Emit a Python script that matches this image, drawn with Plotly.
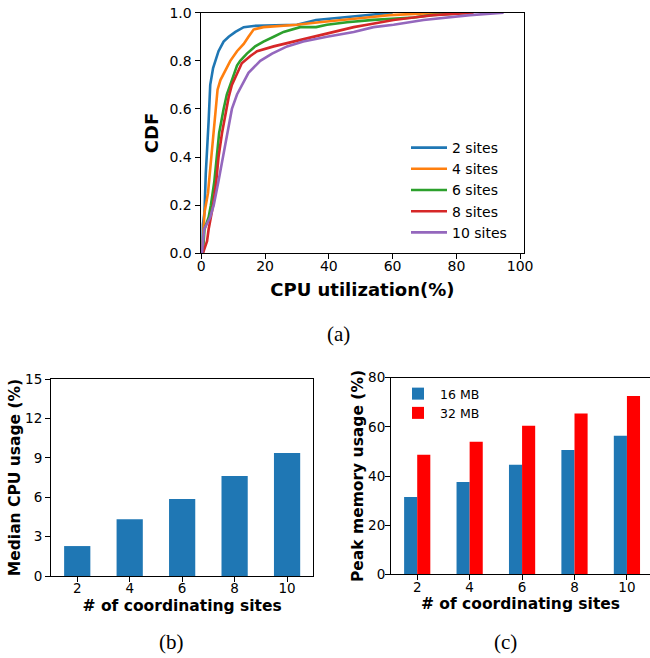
import plotly.graph_objects as go

# ---------------- data ----------------
# (a) CDF of CPU utilization
cpu_2 = [0.3, 0.5, 1.0, 1.4, 2.3, 2.8, 3.7, 4.4, 5.4, 7.0, 8.6, 10.7, 13.3, 16.4, 30, 36, 43.6, 52, 60]
cdf_2 = [0.0, 0.12, 0.17, 0.33, 0.55, 0.70, 0.77, 0.80, 0.84, 0.88, 0.90, 0.92, 0.94, 0.945, 0.95, 0.97, 0.98, 0.99, 1.0]

cpu_4 = [0.3, 0.5, 1.0, 2.1, 3.0, 3.9, 4.5, 5.1, 6.0, 7.5, 9.1, 11.2, 13.3, 14.8, 16.4, 19.5, 30, 37, 43.6, 52, 59, 70, 75]
cdf_4 = [0.0, 0.05, 0.17, 0.25, 0.38, 0.50, 0.60, 0.68, 0.72, 0.76, 0.80, 0.84, 0.87, 0.90, 0.93, 0.94, 0.95, 0.96, 0.97, 0.98, 0.99, 0.995, 1.0]

cpu_6 = [0.5, 1.0, 2.3, 3.0, 4.1, 4.9, 5.6, 7.0, 8.0, 9.6, 11.2, 12.2, 14.3, 16.9, 19.5, 22.7, 25.8, 31, 36, 39.4, 45.7, 54, 60, 66.6, 71.8, 84.3]
cdf_6 = [0.0, 0.10, 0.15, 0.20, 0.30, 0.40, 0.50, 0.60, 0.66, 0.72, 0.78, 0.80, 0.83, 0.86, 0.88, 0.90, 0.92, 0.94, 0.94, 0.95, 0.96, 0.97, 0.975, 0.98, 0.99, 1.0]

cpu_8 = [0.5, 1.8, 2.3, 3.0, 3.7, 4.7, 5.4, 6.5, 7.5, 8.6, 9.6, 11.2, 12.7, 15.4, 17.5, 22.7, 29, 35.2, 41.5, 47.8, 52, 56.1, 60.3, 66.6, 72.8, 85.4]
cdf_8 = [0.0, 0.05, 0.10, 0.15, 0.20, 0.30, 0.40, 0.50, 0.58, 0.65, 0.70, 0.75, 0.79, 0.82, 0.84, 0.86, 0.88, 0.90, 0.92, 0.94, 0.95, 0.96, 0.97, 0.98, 0.99, 1.0]

cpu_10 = [0.2, 0.9, 2.8, 3.9, 5.4, 6.8, 8.0, 9.6, 11.2, 12.7, 14.8, 18.5, 22.2, 26.9, 32, 39.4, 47.8, 54, 60.3, 69.7, 77, 84.3, 94.8]
cdf_10 = [0.0, 0.10, 0.15, 0.20, 0.30, 0.40, 0.50, 0.60, 0.66, 0.70, 0.75, 0.80, 0.83, 0.86, 0.88, 0.90, 0.92, 0.94, 0.95, 0.97, 0.98, 0.99, 1.0]

series_names = ["2 sites", "4 sites", "6 sites", "8 sites", "10 sites"]
series_x = [cpu_2, cpu_4, cpu_6, cpu_8, cpu_10]
series_y = [cdf_2, cdf_4, cdf_6, cdf_8, cdf_10]
series_colors = ["#1f77b4", "#ff7f0e", "#2ca02c", "#d62728", "#9467bd"]

# (b) median CPU usage
sites = ["2", "4", "6", "8", "10"]
median_cpu = [2.28, 4.33, 5.86, 7.61, 9.37]

# (c) peak memory usage
mem_16 = [31.5, 37.6, 44.6, 50.6, 56.4]
mem_32 = [48.6, 53.9, 60.4, 65.4, 72.6]

# ---------------- figure ----------------
W, H = 650, 658
def px(x):
    return x / W
def py(y):
    return 1 - y / H

fig = go.Figure()

for name, xs, ys, c in zip(series_names, series_x, series_y, series_colors):
    fig.add_trace(go.Scatter(x=xs, y=ys, mode="lines", name=name,
                             line=dict(color=c, width=2.6),
                             cliponaxis=False,
                             xaxis="x", yaxis="y", legend="legend"))

fig.add_trace(go.Bar(x=sites, y=median_cpu, width=0.5, marker_color="#1f77b4",
                     marker_line_width=0, showlegend=False,
                     xaxis="x2", yaxis="y2"))

fig.add_trace(go.Bar(x=sites, y=mem_16, width=0.25, offset=-0.25, name="16 MB",
                     marker_color="#1f77b4", marker_line_width=0,
                     xaxis="x3", yaxis="y3", legend="legend2"))
fig.add_trace(go.Bar(x=sites, y=mem_32, width=0.25, offset=0.0, name="32 MB",
                     marker_color="#ff0000", marker_line_width=0,
                     xaxis="x3", yaxis="y3", legend="legend2"))

tick_font_top = dict(family="DejaVu Sans", size=14, color="black")
tick_font_bot = dict(family="DejaVu Sans", size=13.5, color="black")
title_font_top = dict(family="DejaVu Sans", size=18, color="black", weight="bold")
title_font_bot = dict(family="DejaVu Sans", size=15.5, color="black", weight="bold")

axis_common = dict(showline=True, linecolor="black", linewidth=1,
                   ticks="outside", ticklen=5, tickwidth=1, tickcolor="black",
                   showgrid=False, zeroline=False, automargin=False,
                   ticklabeloverflow="allow")

fig.update_layout(
    template="none",
    width=W, height=H,
    margin=dict(l=0, r=0, t=0, b=0, pad=0),
    paper_bgcolor="white", plot_bgcolor="white",
    font=dict(family="DejaVu Sans", color="black"),
    barmode="overlay",
    xaxis=dict(domain=[px(200.5), px(524.3)], anchor="y", range=[-0.25, 101.3],
               tickvals=[0, 20, 40, 60, 80, 100], tickfont=tick_font_top,
               ticklabelstandoff=-5, mirror=True,
               title=dict(text="CPU utilization(%)", font=title_font_top, standoff=10),
               **axis_common),
    yaxis=dict(domain=[py(253.3), py(12.7)], anchor="x", range=[0, 1.0],
               tickvals=[0, 0.2, 0.4, 0.6, 0.8, 1.0], tickformat=".1f",
               tickfont=tick_font_top, mirror=True,
               title=dict(text="CDF", font=title_font_top, standoff=6),
               **axis_common),
    xaxis2=dict(domain=[px(51), px(313.3)], anchor="y2", type="category",
                range=[-0.5, 4.5], tickfont=tick_font_bot,
                ticklabelstandoff=-5, mirror=True,
                title=dict(text="# of coordinating sites", font=title_font_bot, standoff=4),
                **axis_common),
    yaxis2=dict(domain=[py(576), py(379)], anchor="x2", range=[0, 15],
                tickvals=[0, 3, 6, 9, 12, 15], tickfont=tick_font_bot, mirror=True,
                title=dict(text="Median CPU usage (%)", font=title_font_bot, standoff=0),
                **axis_common),
    xaxis3=dict(domain=[px(391), 1.0], anchor="y3", type="category",
                range=[-0.5, 4.44], tickfont=tick_font_bot,
                ticklabelstandoff=-5, mirror=True,
                title=dict(text="# of coordinating sites", font=title_font_bot, standoff=4),
                **axis_common),
    yaxis3=dict(domain=[py(574.3), py(377.7)], anchor="x3", range=[0, 80],
                tickvals=[0, 20, 40, 60, 80], tickfont=tick_font_bot, mirror=False,
                ticklabelstandoff=-3,
                title=dict(text="Peak memory usage (%)", font=title_font_bot, standoff=0),
                **axis_common),
    legend=dict(x=px(406), y=py(132), xanchor="left", yanchor="top",
                bgcolor="rgba(255,255,255,0)", borderwidth=0,
                font=dict(family="DejaVu Sans", size=14, color="black"),
                tracegroupgap=0, itemwidth=36),
    legend2=dict(x=px(396), y=py(379), xanchor="left", yanchor="top",
                 bgcolor="rgba(255,255,255,0)", borderwidth=0,
                 font=dict(family="DejaVu Sans", size=12.5, color="black"),
                 tracegroupgap=0, itemwidth=34),
    annotations=[
        dict(text="(a)", x=px(338), y=py(334), xref="paper", yref="paper",
             xanchor="center", yanchor="middle",
             showarrow=False, font=dict(family="Liberation Serif", size=21, color="black")),
        dict(text="(b)", x=px(171), y=py(642), xref="paper", yref="paper",
             xanchor="center", yanchor="middle",
             showarrow=False, font=dict(family="Liberation Serif", size=21, color="black")),
        dict(text="(c)", x=px(505), y=py(642), xref="paper", yref="paper",
             xanchor="center", yanchor="middle",
             showarrow=False, font=dict(family="Liberation Serif", size=21, color="black")),
    ],
)

# remove the browser's default 8px body margin so the figure fills the window
fig.write_html("out.html",
               config={"displayModeBar": False},
               post_script="document.body.style.margin='0px';document.body.style.overflow='hidden';")
